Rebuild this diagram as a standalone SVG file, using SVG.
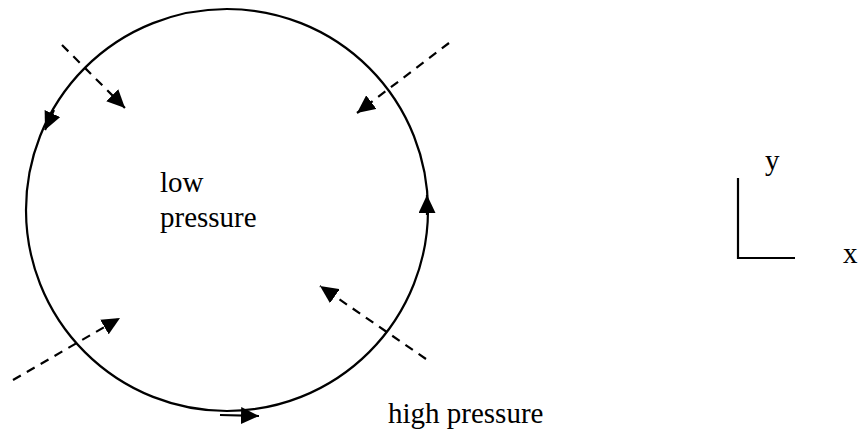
<svg xmlns="http://www.w3.org/2000/svg" width="864" height="433" viewBox="0 0 864 433">
<style>
.solid{fill:none;stroke:#000;stroke-width:2.2}
.dash{fill:none;stroke:#000;stroke-width:2.2;stroke-dasharray:9,7}
.ah{fill:#000;stroke:none}
.t{font-family:"Liberation Serif",Tinos,"Times New Roman",Times,"DejaVu Serif","Noto Serif",serif;font-size:29px;fill:#000}
</style>
<defs>
<marker id="arr" viewBox="0 0 18 17" refX="18" refY="8.5" markerWidth="18" markerHeight="17" markerUnits="userSpaceOnUse" orient="auto">
<path d="M0,0 L18,8.5 L0,17 Z" class="ah"/>
</marker>
</defs>
<g id="circle">
<circle cx="227" cy="210" r="201" class="solid"/>
</g>
<g id="connectors">
<line x1="62" y1="45" x2="125" y2="108" class="dash" marker-end="url(#arr)"/>
<line x1="449" y1="43" x2="357" y2="113" class="dash" marker-end="url(#arr)"/>
<line x1="13" y1="380" x2="120" y2="318" class="dash" marker-end="url(#arr)"/>
<line x1="426" y1="359" x2="320" y2="286" class="dash" marker-end="url(#arr)"/>
<path d="M54,110 L45,130" class="solid" marker-end="url(#arr)"/>
<path d="M427,215 L427,195" class="solid" marker-end="url(#arr)"/>
<path d="M220,415 L259,416" class="solid" marker-end="url(#arr)"/>
</g>
<g id="labels">
<text x="160" y="192" class="t">low</text>
<text x="160" y="227" class="t">pressure</text>
<text x="388" y="423" class="t">high pressure</text>
</g>
<g id="axes">
<polyline points="738,178 738,258 795,258" class="solid"/>
<text x="765" y="170" class="t">y</text>
<text x="843" y="263" class="t">x</text>
</g>
</svg>
